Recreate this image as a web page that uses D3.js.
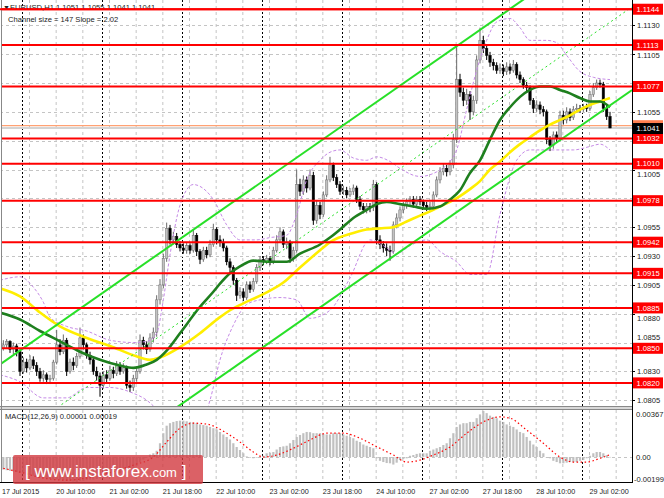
<!DOCTYPE html>
<html><head><meta charset="utf-8">
<script src="https://cdn.jsdelivr.net/npm/d3@7"></script>
<style>body{margin:0;background:#fff}svg{display:block}text{font-family:"Liberation Sans",Arial,sans-serif}</style>
</head><body><svg id="c" width="664" height="498"></svg>
<script>
// ---------- DATA ----------
const closeP = [1.0853,1.0856,1.0849,1.0852,1.0847,1.0830,1.0838,1.0833,1.0840,1.0835,
1.0830,1.0824,1.0827,1.0823,1.0824,1.0838,1.0853,1.0847,1.0857,1.0830,
1.0838,1.0835,1.0843,1.0859,1.0853,1.0844,1.0840,1.0830,1.0826,1.0818,
1.0827,1.0824,1.0831,1.0828,1.0835,1.0830,1.0833,1.0818,1.0816,1.0824,
1.0830,1.0857,1.0853,1.0849,1.0859,1.0864,1.0892,1.0905,1.0928,1.0954,
1.0944,1.0947,1.0940,1.0937,1.0935,1.0939,1.0935,1.0948,1.0934,1.0927,
1.0935,1.0931,1.0940,1.0953,1.0944,1.0942,1.0937,1.0925,1.0920,1.0909,
1.0896,1.0899,1.0894,1.0905,1.0901,1.0908,1.0920,1.0927,1.0925,1.0928,
1.0925,1.0935,1.0944,1.0951,1.0940,1.0942,1.0928,1.0935,1.0992,1.0986,
1.0996,1.0989,1.1000,1.0961,1.0974,1.0966,1.0983,1.0996,1.1009,1.0998,
1.0992,1.0986,1.0987,1.0983,1.0986,1.0989,1.0979,1.0973,1.0970,1.0973,
1.0972,1.0992,1.0944,1.0940,1.0937,1.0935,1.0934,1.0957,1.0963,1.0970,
1.0974,1.0977,1.0979,1.0975,1.0979,1.0977,1.0974,1.0972,1.0973,1.0983,
1.0996,1.1003,1.1006,1.1003,1.1009,1.1031,1.1083,1.1072,1.1065,1.1070,
1.1055,1.1065,1.1100,1.1117,1.1110,1.1104,1.1098,1.1095,1.1091,1.1093,
1.1090,1.1094,1.1091,1.1096,1.1087,1.1083,1.1078,1.1076,1.1065,1.1058,
1.1061,1.1057,1.1055,1.1031,1.1026,1.1035,1.1032,1.1052,1.1048,1.1055,
1.1050,1.1057,1.1058,1.1057,1.1059,1.1058,1.1070,1.1076,1.1080,1.1079,
1.1058,1.1051,1.1041];
const openP = [1.0850,1.0853,1.0856,1.0849,1.0852,1.0847,1.0830,1.0838,1.0833,1.0840,
1.0835,1.0830,1.0824,1.0827,1.0823,1.0824,1.0838,1.0853,1.0847,1.0857,
1.0830,1.0838,1.0835,1.0843,1.0859,1.0853,1.0844,1.0840,1.0830,1.0826,
1.0818,1.0827,1.0824,1.0831,1.0828,1.0835,1.0830,1.0833,1.0818,1.0816,
1.0824,1.0830,1.0857,1.0853,1.0849,1.0859,1.0864,1.0892,1.0905,1.0928,
1.0954,1.0944,1.0947,1.0940,1.0937,1.0935,1.0939,1.0935,1.0948,1.0934,
1.0927,1.0935,1.0931,1.0940,1.0953,1.0944,1.0942,1.0937,1.0925,1.0920,
1.0909,1.0896,1.0899,1.0894,1.0905,1.0901,1.0908,1.0920,1.0927,1.0925,
1.0928,1.0925,1.0935,1.0944,1.0951,1.0940,1.0942,1.0928,1.0935,1.0992,
1.0986,1.0996,1.0989,1.1000,1.0961,1.0974,1.0966,1.0983,1.0996,1.1009,
1.0998,1.0992,1.0986,1.0987,1.0983,1.0986,1.0989,1.0979,1.0973,1.0970,
1.0973,1.0972,1.0992,1.0944,1.0940,1.0937,1.0935,1.0934,1.0957,1.0963,
1.0970,1.0974,1.0977,1.0979,1.0975,1.0979,1.0977,1.0974,1.0972,1.0973,
1.0983,1.0996,1.1003,1.1006,1.1003,1.1009,1.1031,1.1083,1.1072,1.1065,
1.1070,1.1055,1.1065,1.1100,1.1117,1.1110,1.1104,1.1098,1.1095,1.1091,
1.1093,1.1090,1.1094,1.1091,1.1096,1.1087,1.1083,1.1078,1.1076,1.1065,
1.1058,1.1061,1.1057,1.1055,1.1031,1.1026,1.1035,1.1032,1.1052,1.1048,
1.1055,1.1050,1.1057,1.1058,1.1057,1.1059,1.1058,1.1070,1.1076,1.1080,
1.1079,1.1058,1.1051];
const highP = [1.0857,1.0858,1.0857,1.0855,1.0854,1.0849,1.0842,1.0841,1.0844,1.0843,
1.0838,1.0833,1.0831,1.0829,1.0827,1.0840,1.0866,1.0858,1.0862,1.0859,
1.0841,1.0842,1.0846,1.0868,1.0862,1.0855,1.0847,1.0842,1.0834,1.0829,
1.0830,1.0831,1.0835,1.0834,1.0839,1.0838,1.0837,1.0835,1.0822,1.0827,
1.0834,1.0862,1.0860,1.0856,1.0863,1.0868,1.0896,1.0910,1.0932,1.0959,
1.0957,1.0951,1.0950,1.0943,1.0941,1.0942,1.0941,1.0953,1.0950,1.0936,
1.0938,1.0938,1.0944,1.0958,1.0955,1.0948,1.0945,1.0939,1.0928,1.0922,
1.0911,1.0903,1.0902,1.0908,1.0908,1.0911,1.0923,1.0930,1.0930,1.0931,
1.0930,1.0938,1.0948,1.0955,1.0953,1.0946,1.0944,1.0938,1.1005,1.0997,
1.1000,1.0999,1.1005,1.1003,1.0978,1.0977,1.0986,1.1000,1.1016,1.1011,
1.1001,1.0995,1.0991,1.0990,1.0989,1.0992,1.0991,1.0982,1.0976,1.0976,
1.0976,1.0996,1.0994,1.0948,1.0943,1.0941,1.0939,1.0960,1.0967,1.0973,
1.0977,1.0980,1.0982,1.0982,1.0982,1.0982,1.0979,1.0977,1.0977,1.0986,
1.0999,1.1007,1.1010,1.1009,1.1013,1.1036,1.1113,1.1088,1.1076,1.1075,
1.1073,1.1069,1.1104,1.1128,1.1121,1.1113,1.1107,1.1101,1.1098,1.1097,
1.1096,1.1098,1.1097,1.1100,1.1098,1.1090,1.1085,1.1081,1.1078,1.1067,
1.1065,1.1064,1.1060,1.1057,1.1034,1.1038,1.1038,1.1056,1.1056,1.1059,
1.1058,1.1060,1.1062,1.1061,1.1062,1.1062,1.1073,1.1080,1.1083,1.1083,
1.1081,1.1061,1.1055];
const lowP = [1.0848,1.0850,1.0846,1.0845,1.0843,1.0826,1.0828,1.0829,1.0831,1.0832,
1.0826,1.0821,1.0821,1.0819,1.0819,1.0822,1.0836,1.0844,1.0845,1.0826,
1.0828,1.0831,1.0833,1.0841,1.0849,1.0841,1.0836,1.0827,1.0822,1.0808,
1.0815,1.0820,1.0822,1.0824,1.0826,1.0827,1.0828,1.0815,1.0812,1.0813,
1.0821,1.0828,1.0849,1.0845,1.0847,1.0855,1.0860,1.0888,1.0902,1.0925,
1.0940,1.0940,1.0937,1.0934,1.0932,1.0932,1.0932,1.0933,1.0930,1.0923,
1.0925,1.0928,1.0929,1.0938,1.0940,1.0938,1.0934,1.0922,1.0916,1.0905,
1.0891,1.0893,1.0891,1.0892,1.0898,1.0899,1.0906,1.0917,1.0922,1.0923,
1.0922,1.0923,1.0933,1.0942,1.0937,1.0936,1.0924,1.0925,1.0933,1.0982,
1.0983,1.0985,1.0987,1.0957,1.0958,1.0962,1.0964,1.0981,1.0994,1.0995,
1.0989,1.0983,1.0983,1.0980,1.0981,1.0983,1.0976,1.0970,1.0967,1.0967,
1.0968,1.0969,1.0940,1.0936,1.0933,1.0930,1.0926,1.0932,1.0954,1.0960,
1.0967,1.0971,1.0974,1.0972,1.0972,1.0974,1.0971,1.0969,1.0969,1.0971,
1.0981,1.0993,1.1000,1.0999,1.1000,1.1006,1.1028,1.1068,1.1060,1.1061,
1.1048,1.1052,1.1062,1.1097,1.1106,1.1100,1.1094,1.1091,1.1088,1.1088,
1.1086,1.1087,1.1088,1.1089,1.1084,1.1080,1.1075,1.1073,1.1061,1.1054,
1.1055,1.1053,1.1051,1.1027,1.1021,1.1023,1.1028,1.1030,1.1044,1.1045,
1.1047,1.1048,1.1054,1.1054,1.1055,1.1055,1.1056,1.1068,1.1074,1.1076,
1.1055,1.1048,1.1041];

// moving averages (bar index, price)
const maGreenBars = [-1,5,11,17,23,29,35,39,43,46,49,53,59,63,65,68,71,75,80,85,89,95,98,101,105,109,112,115,119,123,127,131,134,137,140,143,146,149,152,155,158,161,164,167,170,173,176,179,182];
const maGreen = [1.0881,1.0875,1.0865,1.0856,1.0847,1.0840,1.0835,1.0833,1.0836,1.0840,1.0848,1.0863,1.0886,1.0899,1.0906,1.0915,1.0921,1.0926,1.0925,1.0925,1.0932,1.0940,1.0946,1.0953,1.0963,1.0970,1.0975,1.0977,1.0975,1.0973,1.0971,1.0973,1.0979,1.0987,1.1002,1.1013,1.1031,1.1048,1.1059,1.1068,1.1074,1.1077,1.1077,1.1074,1.1071,1.1067,1.1064,1.1064,1.1059];
const maYellowBars = [-1,5,11,17,24,32,39,44,47,53,59,65,68,72,78,84,89,95,98,105,109,113,117,121,125,129,131,134,137,140,143,146,149,152,155,158,161,164,167,170,173,176,179,182];
const maYellow = [1.0902,1.0895,1.0881,1.0869,1.0860,1.0852,1.0844,1.0840,1.0842,1.0851,1.0863,1.0877,1.0883,1.0889,1.0897,1.0907,1.0920,1.0935,1.0942,1.0950,1.0953,1.0954,1.0955,1.0960,1.0965,1.0970,1.0973,1.0977,1.0982,1.0988,1.0995,1.1005,1.1012,1.1020,1.1027,1.1033,1.1039,1.1044,1.1048,1.1052,1.1057,1.1061,1.1064,1.1067];
// envelope bands (dotted violet)
const bandUpBars = [-1,5,9,12,14,19,25,32,39,43,46,48,50,53,57,61,63,67,71,76,80,85,88,91,95,98,101,105,109,112,116,119,125,130,133,136,139,142,145,148,152,155,158,163,166,169,173,177,182];
const bandUp = [1.0909,1.0912,1.0903,1.0890,1.0877,1.0869,1.0865,1.0857,1.0855,1.0856,1.0863,1.0892,1.0931,1.0974,1.0992,1.0986,1.0979,1.0957,1.0944,1.0944,1.0946,1.0948,1.0966,1.0996,1.1013,1.1020,1.1022,1.1015,1.1013,1.1016,1.1012,1.1006,1.0999,1.1003,1.1009,1.1022,1.1057,1.1091,1.1117,1.1133,1.1136,1.1128,1.1117,1.1117,1.1115,1.1104,1.1090,1.1085,1.1083];
const bandLoBars = [-1,5,12,19,25,32,39,43,46,52,56,62,65,69,73,77,83,88,92,98,104,110,114,118,122,127,131,136,140,145,149,154,158,164,171,176,179,182];
const bandLo = [1.0827,1.0821,1.0807,1.0807,1.0816,1.0816,1.0811,1.0805,1.0797,1.0771,1.0766,1.0805,1.0840,1.0870,1.0888,1.0892,1.0894,1.0892,1.0876,1.0883,1.0911,1.0944,1.0939,1.0932,1.0939,1.0944,1.0934,1.0925,1.0914,1.0914,1.0966,1.1013,1.1022,1.1022,1.1022,1.1025,1.1027,1.1022];

// equidistant channel: upper line through two anchors, width in price
const chanBars = [-1, 188.6];
const chanUpper = [1.0836, 1.1218];
const chanWidth = 0.0144;

// horizontal levels
const levels = [1.1144,1.1113,1.1077,1.1032,1.1010,1.0978,1.0942,1.0915,1.0885,1.0850,1.0820];
const priceTicks = [1.1130,1.1105,1.1080,1.1055,1.1030,1.1005,1.0980,1.0955,1.0930,1.0905,1.0880,1.0855,1.0830,1.0805];
const bidPrice = 1.1041, askPrice = 1.1043;

// MACD histogram (one per bar) and signal line
const macdHist = [-0.00100,-0.00105,-0.00110,-0.00115,-0.00120,-0.00125,-0.00130,-0.00140,-0.00145,-0.00150,
-0.00155,-0.00160,-0.00165,-0.00170,-0.00175,-0.00180,-0.00180,-0.00180,-0.00185,-0.00190,
-0.00190,-0.00195,-0.00199,-0.00190,-0.00190,-0.00185,-0.00180,-0.00180,-0.00175,-0.00170,
-0.00170,-0.00165,-0.00160,-0.00150,-0.00140,-0.00130,-0.00120,-0.00110,-0.00100,-0.00090,
-0.00070,-0.00040,-0.00020,0.00000,0.00020,0.00030,0.00050,0.00110,0.00190,0.00250,
0.00270,0.00280,0.00287,0.00290,0.00290,0.00285,0.00280,0.00275,0.00270,0.00260,
0.00255,0.00250,0.00240,0.00230,0.00220,0.00200,0.00180,0.00160,0.00140,0.00110,
0.00080,0.00056,0.00030,0.00005,-0.00005,-0.00010,-0.00005,0.00002,0.00010,0.00030,
0.00035,0.00040,0.00060,0.00080,0.00085,0.00090,0.00110,0.00136,0.00160,0.00176,
0.00190,0.00200,0.00198,0.00190,0.00190,0.00190,0.00185,0.00180,0.00180,0.00190,
0.00190,0.00190,0.00180,0.00170,0.00160,0.00150,0.00130,0.00120,0.00100,0.00090,
0.00080,0.00070,-0.00010,-0.00030,-0.00040,-0.00048,-0.00050,-0.00060,-0.00045,-0.00024,
-0.00015,-0.00010,0.00010,0.00016,0.00025,0.00030,0.00030,0.00030,0.00050,0.00060,
0.00070,0.00080,0.00096,0.00110,0.00150,0.00190,0.00240,0.00260,0.00270,0.00270,
0.00280,0.00280,0.00310,0.00340,0.00367,0.00350,0.00330,0.00320,0.00310,0.00290,
0.00280,0.00260,0.00250,0.00240,0.00220,0.00200,0.00190,0.00160,0.00130,0.00100,
0.00080,0.00050,0.00030,0.00000,-0.00010,-0.00030,-0.00040,-0.00050,-0.00050,-0.00045,
-0.00040,-0.00040,-0.00040,-0.00030,-0.00024,-0.00010,0.00010,0.00030,0.00040,0.00040,
0.00030,0.00015,0.00001];
const sigBars = [0,5,12,19,29,39,45,49,53,57,61,67,71,75,78,82,87,92,97,102,107,111,117,121,125,129,134,139,144,149,152,157,162,167,171,175,179,182];
const sigVals = [-0.00090,-0.00120,-0.00168,-0.00184,-0.00144,-0.00064,0.00000,0.00120,0.00230,0.00270,0.00263,0.00190,0.00120,0.00040,0.00000,0.00016,0.00070,0.00136,0.00190,0.00190,0.00150,0.00096,0.00016,-0.00040,-0.00024,0.00016,0.00080,0.00190,0.00280,0.00320,0.00310,0.00215,0.00110,0.00000,-0.00040,-0.00040,-0.00010,0.00019];
const macdTicks = [0.00367, 0.00, -0.00199];
const macdTickLabels = ["0.00367","0.00","-0.00199"];

// time axis
const timeLabelBars = [0,16,32,48,64,80,96,112,128,144,160,176];
const timeLabels = ["17 Jul 2015","20 Jul 10:00","21 Jul 02:00","21 Jul 18:00","22 Jul 10:00","23 Jul 02:00","23 Jul 18:00","24 Jul 10:00","27 Jul 02:00","27 Jul 18:00","28 Jul 10:00","29 Jul 02:00"];
const gridBars = [8,16,24,32,40,48,56,64,72,80,88,96,104,112,120,128,136,144,152,160,168,176,184];
const daySepBars = [6,30,54,78,102,126,150,174];

const titleText = "EURUSD,H1  1.1051 1.1055 1.1041 1.1041";
const subTitle = "Channel size = 147 Slope = 2.02";
const macdTitle = "MACD(12,26,9) 0.00001 0.00019";

// ---------- LAYOUT ----------
const plotR = 632, mainBot = 407, macdTop = 410, macdBot = 482;
const svg = d3.select("#c");
const x = d3.scaleLinear().domain([-1, 188.6]).range([0, plotR]);
const y = d3.scaleLinear().domain([1.07991, 1.1152]).range([mainBot, 0]);
const ym = d3.scaleLinear().domain([-0.00199, 0.00367]).range([macdBot, 411]);
const step = x(1) - x(0);

svg.append("rect").attr("width",664).attr("height",498).attr("fill","#fff");
const defs = svg.append("defs");
defs.append("clipPath").attr("id","cm").append("rect").attr("x",1).attr("y",0).attr("width",plotR-1).attr("height",mainBot-1);
defs.append("clipPath").attr("id","cd").append("rect").attr("x",1).attr("y",macdTop).attr("width",plotR-1).attr("height",macdBot-macdTop);

const gMain = svg.append("g").attr("clip-path","url(#cm)");
const gMacd = svg.append("g").attr("clip-path","url(#cd)");

// grid
[gMain, gMacd].forEach((g,k)=>{
  const y0 = k===0?0:macdTop, y1 = k===0?mainBot:macdBot;
  g.selectAll(null).data(gridBars).join("line")
    .attr("x1",d=>x(d)-0.5).attr("x2",d=>x(d)-0.5).attr("y1",y0).attr("y2",y1)
    .attr("stroke","#c4c4c4").attr("stroke-dasharray","3,3");
  g.selectAll(null).data(daySepBars).join("line")
    .attr("x1",d=>Math.round(x(d)-step/2)+0.5).attr("x2",d=>Math.round(x(d)-step/2)+0.5).attr("y1",y0).attr("y2",y1)
    .attr("stroke","#000").attr("stroke-dasharray","2,2");
});
gMain.selectAll(null).data(priceTicks).join("line")
  .attr("x1",0).attr("x2",plotR).attr("y1",d=>Math.round(y(d))+0.5).attr("y2",d=>Math.round(y(d))+0.5)
  .attr("stroke","#c4c4c4").attr("stroke-dasharray","3,3");
gMacd.append("line").attr("x1",0).attr("x2",plotR).attr("y1",Math.round(ym(0))+0.5).attr("y2",Math.round(ym(0))+0.5)
  .attr("stroke","#c4c4c4").attr("stroke-dasharray","3,3");

// bid / ask lines
gMain.append("line").attr("x1",0).attr("x2",plotR).attr("y1",y(bidPrice)).attr("y2",y(bidPrice)).attr("stroke","#d4d4d4").attr("stroke-width",2);
gMain.append("line").attr("x1",0).attr("x2",plotR).attr("y1",y(askPrice)).attr("y2",y(askPrice)).attr("stroke","#ff8a50").attr("stroke-width",1);

// candles
const idx = d3.range(closeP.length);
gMain.selectAll(null).data(idx).join("line")
  .attr("x1",i=>x(i)).attr("x2",i=>x(i)).attr("y1",i=>y(highP[i])).attr("y2",i=>y(lowP[i]))
  .attr("stroke",i=>closeP[i]>=openP[i]?"#6a6a6a":"#000").attr("stroke-width",1);
gMain.selectAll(null).data(idx).join("rect")
  .attr("x",i=>x(i)-1.2).attr("width",2.4)
  .attr("y",i=>y(Math.max(openP[i],closeP[i])))
  .attr("height",i=>Math.max(0.8,Math.abs(y(openP[i])-y(closeP[i]))))
  .attr("fill",i=>closeP[i]>=openP[i]?"#c2c2c2":"#000")
  .attr("stroke",i=>closeP[i]>=openP[i]?"#707070":"#000").attr("stroke-width",0.5);

// bands
function pts(bars, vals){ return bars.map((b,k)=>[b, vals[k]]); }
const lineMain = d3.line().x(d=>x(d[0])).y(d=>y(d[1])).curve(d3.curveMonotoneX);
gMain.append("path").attr("d",lineMain(pts(bandUpBars,bandUp))).attr("fill","none").attr("stroke","#c58ae6").attr("stroke-width",1).attr("stroke-dasharray","3,2");
gMain.append("path").attr("d",lineMain(pts(bandLoBars,bandLo))).attr("fill","none").attr("stroke","#c58ae6").attr("stroke-width",1).attr("stroke-dasharray","3,2");
// MAs
gMain.append("path").attr("d",lineMain(pts(maYellowBars,maYellow))).attr("fill","none").attr("stroke","#ffee00").attr("stroke-width",2.6);
gMain.append("path").attr("d",lineMain(pts(maGreenBars,maGreen))).attr("fill","none").attr("stroke","#1e7f1e").attr("stroke-width",2.6);

// channel
const chan = [0, chanWidth/2, chanWidth];
chan.forEach((off,k)=>{
  gMain.append("line")
    .attr("x1",x(chanBars[0])).attr("x2",x(chanBars[1]))
    .attr("y1",y(chanUpper[0]-off)).attr("y2",y(chanUpper[1]-off))
    .attr("stroke","#28e028").attr("stroke-width",k===1?1:2)
    .attr("stroke-dasharray",k===1?"2,3":null);
});

// red levels
gMain.selectAll(null).data(levels).join("line")
  .attr("x1",0).attr("x2",plotR).attr("y1",d=>y(d)).attr("y2",d=>y(d))
  .attr("stroke","#ff0000").attr("stroke-width",2);

// MACD
gMacd.selectAll(null).data(idx).join("rect")
  .attr("x",i=>x(i)-1.1).attr("width",2.2)
  .attr("y",i=>Math.min(ym(macdHist[i]),ym(0)))
  .attr("height",i=>Math.max(0.5,Math.abs(ym(macdHist[i])-ym(0))))
  .attr("fill","#c0c0c0");
const lineMacd = d3.line().x(d=>x(d[0])).y(d=>ym(d[1])).curve(d3.curveMonotoneX);
gMacd.append("path").attr("d",lineMacd(pts(sigBars,sigVals))).attr("fill","none").attr("stroke","#ff0000").attr("stroke-width",1.2).attr("stroke-dasharray","1.5,2.5");

// frames
svg.append("rect").attr("x",0).attr("y",mainBot-0.5).attr("width",plotR).attr("height",3).attr("fill","#d8d8d8");
svg.append("line").attr("x1",0).attr("x2",plotR).attr("y1",mainBot-0.5).attr("y2",mainBot-0.5).attr("stroke","#888");
svg.append("line").attr("x1",0).attr("x2",plotR).attr("y1",macdTop-0.5).attr("y2",macdTop-0.5).attr("stroke","#888");
svg.append("line").attr("x1",1.5).attr("x2",1.5).attr("y1",0).attr("y2",macdBot).attr("stroke","#888");
svg.append("line").attr("x1",plotR+0.5).attr("x2",plotR+0.5).attr("y1",0).attr("y2",macdBot+1).attr("stroke","#000");
svg.append("line").attr("x1",0).attr("x2",plotR).attr("y1",macdBot+0.5).attr("y2",macdBot+0.5).attr("stroke","#000");

// price axis (grey tick labels; those sitting under a red level label are nudged clear or hidden, as in the picture)
const fs = 7.6;
svg.selectAll(null).data(priceTicks).join("line")
  .attr("x1",plotR).attr("x2",plotR+3).attr("y1",d=>Math.round(y(d))+0.5).attr("y2",d=>Math.round(y(d))+0.5).attr("stroke","#000");
const tickPos = priceTicks.map(p=>{
  const ty = y(p);
  let best = null;
  levels.concat([bidPrice]).forEach(l=>{ const d = ty - y(l); if(best===null || Math.abs(d)<Math.abs(best)) best = d; });
  if (Math.abs(best) < 4) return null;
  if (Math.abs(best) < 10.5) return ty - best + Math.sign(best)*10.5;
  return ty;
});
svg.selectAll(null).data(priceTicks.filter((p,k)=>tickPos[k]!==null)).join("text")
  .attr("x",637).attr("y",p=>tickPos[priceTicks.indexOf(p)]).attr("dy","0.35em").attr("font-size",fs).attr("fill","#222")
  .text(d=>d.toFixed(4));
// red labels
const lab = svg.selectAll(null).data(levels).join("g").attr("transform",d=>`translate(633,${y(d)})`);
lab.append("rect").attr("x",0).attr("y",-5.5).attr("width",30).attr("height",11).attr("fill","#ff0000");
lab.append("text").attr("x",3.5).attr("dy","0.35em").attr("font-size",fs).attr("fill","#fff").text(d=>d.toFixed(4));
// ask / bid labels
svg.append("rect").attr("x",633).attr("y",y(askPrice)-5.5).attr("width",30).attr("height",11).attr("fill","#ff7f50");
svg.append("rect").attr("x",633).attr("y",y(bidPrice)-5).attr("width",30).attr("height",11).attr("fill","#000");
svg.append("text").attr("x",636.5).attr("y",y(bidPrice)+0.5).attr("dy","0.35em").attr("font-size",fs).attr("fill","#fff").text(bidPrice.toFixed(4));

// MACD axis
svg.selectAll(null).data(macdTicks).join("text")
  .attr("x",(d,k)=>k===2?634:636).attr("y",(d,k)=>k===0?ym(d)+3:(k===2?ym(d)-3:ym(d)))
  .attr("dy","0.35em").attr("font-size",fs).attr("fill","#222")
  .text((d,k)=>macdTickLabels[k]);

// time axis
svg.selectAll(null).data(timeLabelBars).join("text")
  .attr("x",(d,k)=>k===0?2:x(d)-0.5).attr("y",494).attr("font-size",7.2).attr("fill","#222")
  .text((d,k)=>timeLabels[k]);

// titles
svg.append("text").attr("x",3).attr("y",10).attr("font-size",7).attr("fill","#222").text("\u25BC");
svg.append("text").attr("x",10).attr("y",10).attr("font-size",fs).attr("fill","#222").text(titleText);
svg.append("text").attr("x",8).attr("y",22).attr("font-size",fs).attr("fill","#222").text(subTitle);
svg.append("text").attr("x",5).attr("y",419).attr("font-size",fs).attr("fill","#222").text(macdTitle);
// top level line drawn over the title, as in the picture
svg.append("line").attr("x1",0).attr("x2",plotR).attr("y1",y(levels[0])).attr("y2",y(levels[0])).attr("stroke","#ff0000").attr("stroke-width",2);

// watermark
const wm = svg.append("g");
wm.append("rect").attr("x",13).attr("y",455).attr("width",190).attr("height",29).attr("rx",2).attr("fill","#d23a40").attr("opacity",0.8);
const wt = wm.append("text").attr("x",25).attr("y",477).attr("fill","#fff").attr("font-size",17);
wt.append("tspan").attr("font-weight",300).text("[ ");
wt.append("tspan").text("www.instaforex");
wt.append("tspan").attr("font-size",13).text(".com");
wt.append("tspan").attr("font-weight",300).text(" ]");
</script></body></html>
